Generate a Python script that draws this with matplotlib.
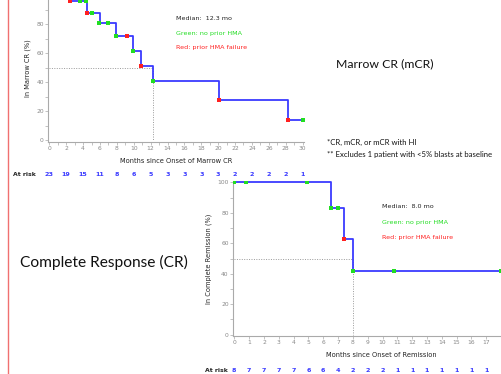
import matplotlib.pyplot as plt
import matplotlib.transforms as mtransforms

# Marrow CR (top panel)
mcr_times = [0, 2.5, 4.5, 6.0, 7.9, 9.9, 10.9, 12.3, 20.1, 28.3, 30.0]
mcr_surv = [100, 95.7, 87.8, 80.5, 71.7, 61.6, 51.0, 40.9, 27.3, 13.6, 13.6]
mcr_green_x = [3.6, 4.3, 5.0, 5.9, 7.0, 7.9, 9.9, 12.3, 30.0]
mcr_green_y = [95.7, 95.7, 87.8, 80.5, 80.5, 71.7, 61.6, 40.9, 13.6]
mcr_red_x = [2.5, 4.5, 9.2, 10.9, 20.1, 28.3]
mcr_red_y = [95.7, 87.8, 71.7, 51.0, 27.3, 13.6]
mcr_median = 12.3
mcr_risk_x = list(range(0, 31, 2))
mcr_at_risk = [23, 19, 15, 11, 8, 6, 5, 3, 3, 3, 3, 2, 2, 2, 2, 1]

# Complete Remission (bottom panel)
cr_times = [0, 6.5, 7.4, 8.0, 18.0]
cr_surv = [100, 83.3, 62.5, 41.7, 41.7]
cr_green_x = [0, 0.8, 4.9, 6.5, 7.0, 8.0, 10.8, 18.0]
cr_green_y = [100, 100, 100, 83.3, 83.3, 41.7, 41.7, 41.7]
cr_red_x = [7.4]
cr_red_y = [62.5]
cr_median = 8.0
cr_risk_x = list(range(0, 18))
cr_at_risk = [8, 7, 7, 7, 7, 6, 6, 4, 2, 2, 2, 1, 1, 1, 1, 1, 1, 1]

W, H = 502, 374
fig = plt.figure(figsize=(W / 100, H / 100), dpi=100)
plt.rcParams['font.family'] = ['DejaVu Sans']

GRAY = '#888888'
BLUE = '#3a3aff'


def add_axes_px(xlim, ylim, x0_px, xscale, y0_px, yscale):
    # place axes so that data 0 lands on (x0_px, y0_px), scales in px/unit
    left = x0_px + xlim[0] * xscale
    right = x0_px + xlim[1] * xscale
    bottom = y0_px - ylim[0] * yscale
    top = y0_px - ylim[1] * yscale
    ax = fig.add_axes([left / W, 1 - bottom / H, (right - left) / W, (bottom - top) / H])
    ax.set_xlim(*xlim)
    ax.set_ylim(*ylim)
    return ax


def km_panel(ax, times, surv, gx, gy, rx, ry, median, xticks, yticks, xlabel, ylabel):
    ax.step(times, surv, where='post', color=BLUE, lw=1.3, zorder=3)
    ax.plot(gx, gy, 's', color='#22dd22', ms=2.4, mew=0, zorder=4)
    ax.plot(rx, ry, 's', color='#ff2020', ms=2.4, mew=0, zorder=4)
    ax.plot([0, median], [50, 50], ls=(0, (1, 1.5)), color='#999999', lw=0.7)
    ax.plot([median, median], [50, 0], ls=(0, (1, 1.5)), color='#999999', lw=0.7)
    for s in ['top', 'right']:
        ax.spines[s].set_visible(False)
    for s in ['left', 'bottom']:
        ax.spines[s].set_color('#aaaaaa')
        ax.spines[s].set_linewidth(0.8)
    ax.set_xticks(xticks)
    ax.set_yticks(yticks)
    ax.set_yticks([10, 30, 50, 70, 90], minor=True)
    ax.tick_params(which='both', colors='#aaaaaa', labelcolor=GRAY, labelsize=4.3,
                   length=2, width=0.5, pad=1)
    ax.set_xlabel(xlabel, fontsize=4.8, labelpad=5, color='#222222')
    ax.set_ylabel(ylabel, fontsize=4.8, labelpad=4, color='#222222')


ax1 = add_axes_px((-0.15, 30.2), (-1.2, 101), 49.3, 253.3 / 30, 140, 1.45)
km_panel(ax1, mcr_times, mcr_surv, mcr_green_x, mcr_green_y, mcr_red_x, mcr_red_y,
         mcr_median, mcr_risk_x, [0, 20, 40, 60, 80],
         'Months since Onset of Marrow CR', 'In Marrow CR (%)')
ax1.set_xticks(range(1, 30, 2), minor=True)

ax2 = add_axes_px((-0.1, 20), (-1.0, 101), 234.3, 14.82, 334.7, 1.524)
km_panel(ax2, cr_times, cr_surv, cr_green_x, cr_green_y, cr_red_x, cr_red_y,
         cr_median, cr_risk_x, [0, 20, 40, 60, 80, 100],
         'Months since Onset of Remission', 'In Complete Remission (%)')


def fig_text(x, y, s, **kw):
    fig.text(x / W, 1 - y / H, s, va='center', **kw)


for (x, y), med in (((176, 18), mcr_median), ((382, 207), cr_median)):
    fig_text(x, y, 'Median:  %.1f mo' % med, fontsize=4.6, color='#222222')
    fig_text(x, y + 15, 'Green: no prior HMA', fontsize=4.6, color='#22dd22')
    fig_text(x, y + 30, 'Red: prior HMA failure', fontsize=4.6, color='#ff2020')

# at-risk rows
for ax, xs, vals, y, lx in ((ax1, mcr_risk_x, mcr_at_risk, 175, 13),
                            (ax2, cr_risk_x, cr_at_risk, 370, 205)):
    trans = mtransforms.blended_transform_factory(ax.transData, fig.transFigure)
    for x, v in zip(xs, vals):
        ax.text(x, 1 - y / H, str(v), transform=trans, ha='center', va='center',
                fontsize=4.6, color=BLUE, fontweight='bold', clip_on=False)
    fig_text(lx, y, 'At risk', fontsize=4.4, color='#222222', fontweight='bold')

# slide texts
fig_text(336, 64, 'Marrow CR (mCR)', fontsize=8.8, color='#111111', family='Lato')
fig_text(20, 262, 'Complete Response (CR)', fontsize=11.2, color='#111111', family='Lato')
fig_text(327, 142, '*CR, mCR, or mCR with HI', fontsize=5.6, color='#111111', family='Lato')
fig_text(327, 154, '** Excludes 1 patient with <5% blasts at baseline', fontsize=5.6,
         color='#111111', family='Lato')

# slide border line
fig.add_artist(plt.Line2D([8.3 / W, 8.3 / W], [0, 1], color='#f07070', lw=1.0))

fig.savefig('out.png', dpi=100)
